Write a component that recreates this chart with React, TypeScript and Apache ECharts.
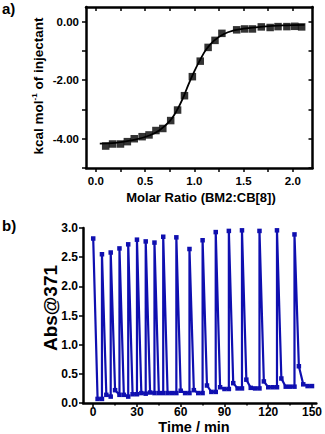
import React, { useEffect, useRef } from "react";
import * as echarts from "echarts";

// ---- Panel a: ITC titration (Molar Ratio vs kcal/mol) ----
const aRatio = [0.10, 0.17, 0.25, 0.32, 0.39, 0.47, 0.54, 0.61, 0.68, 0.76, 0.83, 0.90, 0.98, 1.06, 1.14, 1.21, 1.28, 1.43, 1.51, 1.59, 1.68, 1.77, 1.85, 1.94, 2.02, 2.09];
const aHeat = [-4.25, -4.18, -4.18, -4.10, -4.00, -3.93, -3.87, -3.72, -3.65, -3.38, -3.02, -2.53, -1.88, -1.35, -0.88, -0.64, -0.40, -0.28, -0.25, -0.25, -0.18, -0.20, -0.17, -0.17, -0.16, -0.18];
// fitted curve
const fitRatio = [0.04, 0.2, 0.4, 0.55, 0.65, 0.75, 0.82, 0.88, 0.94, 1.0, 1.06, 1.12, 1.2, 1.3, 1.4, 1.5, 1.7, 1.9, 2.12];
const fitHeat = [-4.17, -4.14, -4.03, -3.88, -3.7, -3.4, -3.05, -2.65, -2.15, -1.7, -1.3, -0.95, -0.65, -0.42, -0.3, -0.24, -0.17, -0.13, -0.11];
const aXTicks = [0, 0.25, 0.5, 0.75, 1.0, 1.25, 1.5, 1.75, 2.0];
const aXLabels = [0, 0.5, 1.0, 1.5, 2.0];
const aYTicks = [-5, -4, -3, -2, -1, 0];
const aYLabels = [-4, -2, 0];

// ---- Panel b: Abs@371 vs time ----
const bTime = [0, 3, 6, 6, 9, 12, 12, 15, 18, 18, 21, 24, 24, 27, 30, 30, 33, 36, 36, 39, 42, 42, 45, 48, 48, 51, 54, 57, 57, 60, 63, 66, 66, 69, 72, 75, 75, 78, 81, 84, 84, 87, 90, 93, 93, 96, 99, 102, 102, 105, 108, 111, 114, 114, 117, 120, 123, 126, 126, 129, 132, 135, 138, 138, 141, 144, 147, 150];
const bAbs = [2.82, 0.07, 0.07, 2.55, 0.14, 0.11, 2.58, 0.22, 0.14, 2.65, 0.14, 0.11, 2.72, 0.15, 0.15, 2.80, 0.17, 0.16, 2.77, 0.18, 0.17, 2.75, 0.17, 0.17, 2.85, 0.17, 0.17, 0.17, 2.84, 0.21, 0.17, 0.17, 2.64, 0.22, 0.17, 0.17, 2.79, 0.30, 0.19, 0.19, 2.93, 0.27, 0.24, 0.24, 2.95, 0.34, 0.25, 0.25, 2.96, 0.40, 0.26, 0.25, 0.25, 2.95, 0.37, 0.27, 0.27, 0.27, 2.96, 0.42, 0.28, 0.28, 0.28, 2.89, 0.63, 0.32, 0.29, 0.29];
const bXMajor = [0, 30, 60, 90, 120, 150];
const bXMinor = [15, 45, 75, 105, 135];

const FONT = "'Liberation Sans', Arial, sans-serif";
const BLUE = "#0f0fb0";

export default function App() {
  const ref = useRef<HTMLDivElement>(null);
  useEffect(() => {
    document.body.style.margin = "0";
    if (!ref.current) return;
    const chart = echarts.init(ref.current, undefined, { renderer: "svg" });
    const axisLine = { show: true, onZero: false, lineStyle: { color: "#000", width: 2.5 } };
    const tickStyle = { color: "#000", width: 1.5 };
    const labelBase = { color: "#000", fontFamily: FONT, fontWeight: "bold" as const };
    chart.setOption({
      animation: false,
      backgroundColor: "#fff",
      grid: [
        { left: 86, top: 7, width: 226.5, height: 161 },
        { left: 83, top: 228, right: 4, height: 175 },
      ],
      xAxis: [
        {
          type: "value", gridIndex: 0, position: "bottom", min: -0.1, max: 2.2,
          axisLine, splitLine: { show: false },
          axisTick: { show: true, inside: false, length: 4, lineStyle: tickStyle, customValues: aXTicks },
          axisLabel: { ...labelBase, fontSize: 11.5, margin: 7, customValues: aXLabels, formatter: (v: number) => v.toFixed(1) },
        },
        {
          type: "value", gridIndex: 0, position: "top", min: -0.1, max: 2.2,
          axisLine, splitLine: { show: false },
          axisTick: { show: true, inside: true, length: 4, lineStyle: tickStyle, customValues: aXTicks },
          axisLabel: { show: false },
        },
        {
          type: "value", gridIndex: 1, position: "bottom", min: -7, max: 153,
          axisLine, splitLine: { show: false },
          axisTick: { show: true, inside: false, length: 4, lineStyle: tickStyle, customValues: bXMajor },
          axisLabel: { ...labelBase, fontSize: 12, margin: 3, customValues: bXMajor, formatter: (v: number) => String(v) },
        },
        {
          type: "value", gridIndex: 1, position: "bottom", min: -7, max: 153,
          axisLine: { show: false, onZero: false }, splitLine: { show: false },
          axisTick: { show: true, inside: false, length: 2.5, lineStyle: tickStyle, customValues: bXMinor },
          axisLabel: { show: false },
        },
      ],
      yAxis: [
        {
          type: "value", gridIndex: 0, position: "left", min: -5, max: 0.5,
          axisLine, splitLine: { show: false },
          axisTick: { show: true, inside: false, length: 4, lineStyle: tickStyle, customValues: aYTicks },
          axisLabel: { ...labelBase, fontSize: 11.5, margin: 7, customValues: aYLabels, formatter: (v: number) => v.toFixed(2) },
        },
        {
          type: "value", gridIndex: 0, position: "right", min: -5, max: 0.5,
          axisLine, splitLine: { show: false },
          axisTick: { show: true, inside: true, length: 4, lineStyle: tickStyle, customValues: aYTicks },
          axisLabel: { show: false },
        },
        {
          type: "value", gridIndex: 1, position: "left", min: 0, max: 3, interval: 0.5,
          axisLine, splitLine: { show: false },
          axisTick: { show: true, inside: false, length: 4, lineStyle: tickStyle },
          axisLabel: { ...labelBase, fontSize: 12, margin: 5, formatter: (v: number) => v.toFixed(1) },
        },
      ],
      series: [
        {
          type: "line", xAxisIndex: 0, yAxisIndex: 0, smooth: 0.4, showSymbol: false, symbol: "none",
          lineStyle: { color: "#000", width: 1.8 },
          data: fitRatio.map((x, i) => [x, fitHeat[i]]),
          z: 2,
        },
        {
          type: "scatter", xAxisIndex: 0, yAxisIndex: 0, symbol: "rect", symbolSize: 7.5,
          itemStyle: { color: "#000" },
          data: aRatio.map((x, i) => [x, aHeat[i]]),
          z: 3,
        },
        {
          type: "line", xAxisIndex: 2, yAxisIndex: 2, symbol: "rect", symbolSize: 4.5, showAllSymbol: true,
          lineStyle: { color: BLUE, width: 2.2 },
          itemStyle: { color: BLUE },
          data: bTime.map((t, i) => [t, bAbs[i]]),
        },
      ],
      graphic: [
        { type: "text", x: 2, y: 1, style: { text: "a)", fontSize: 15, fontWeight: "bold", fontFamily: FONT, fill: "#000" } },
        { type: "text", x: 2, y: 218, style: { text: "b)", fontSize: 15, fontWeight: "bold", fontFamily: FONT, fill: "#000" } },
        {
          type: "text", x: 38, y: 86, rotation: Math.PI / 2,
          style: {
            text: "{a|kcal mol}{s|-1}{a| of injectant}",
            align: "center", verticalAlign: "middle",
            fill: "#000",
            rich: {
              a: { fontSize: 13.5, fontWeight: "bold", fontFamily: FONT, fill: "#000", lineHeight: 16 },
              s: { fontSize: 8, fontWeight: "bold", fontFamily: FONT, fill: "#000", verticalAlign: "top", lineHeight: 16 },
            },
          },
        },
        {
          type: "text", x: 201, y: 197,
          style: { text: "Molar Ratio (BM2:CB[8])", align: "center", verticalAlign: "middle", fontSize: 13, fontWeight: "bold", fontFamily: FONT, fill: "#000" },
        },
        {
          type: "text", x: 50, y: 308, rotation: Math.PI / 2,
          style: { text: "Abs@371", align: "center", verticalAlign: "middle", fontSize: 19, fontWeight: "bold", fontFamily: FONT, fill: "#000" },
        },
        {
          type: "text", x: 194, y: 427,
          style: { text: "Time / min", align: "center", verticalAlign: "middle", fontSize: 14.5, fontWeight: "bold", fontFamily: FONT, fill: "#000" },
        },
      ],
    });
    return () => chart.dispose();
  }, []);
  return <div ref={ref} style={{ width: 325, height: 434, position: "absolute", left: 0, top: 0 }} />;
}
